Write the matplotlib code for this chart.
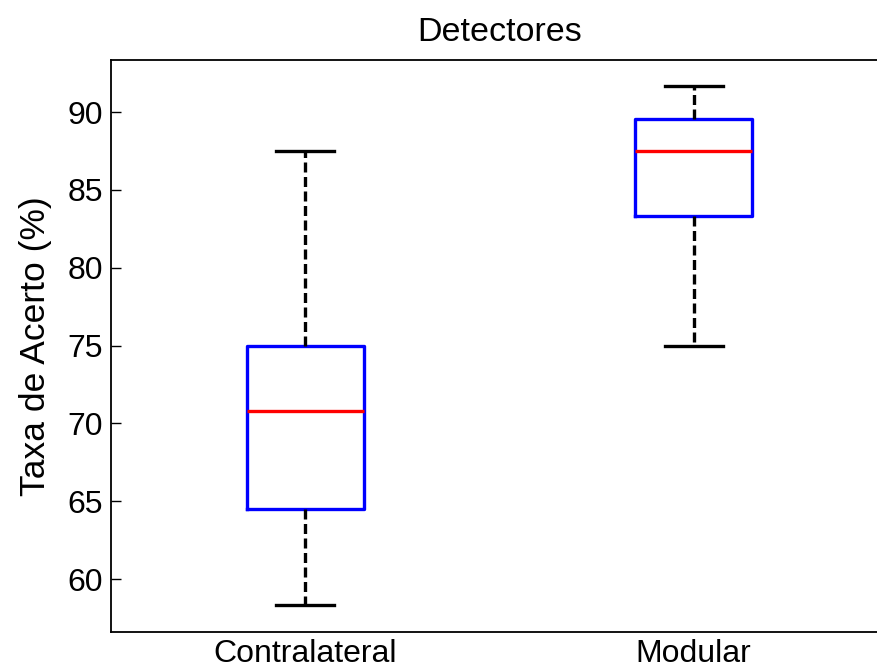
import matplotlib
matplotlib.use("Agg")
import matplotlib.pyplot as plt

plt.rcParams['font.family'] = ['Liberation Sans', 'DejaVu Sans']

labels = ['Contralateral', 'Modular']
whislo = [58.33, 75.0]
q1 = [64.5, 83.33]
med = [70.83, 87.5]
q3 = [75.0, 89.58]
whishi = [87.5, 91.67]
yticks = [60, 65, 70, 75, 80, 85, 90]

stats = []
for i in range(len(labels)):
    stats.append({'label': labels[i], 'whislo': whislo[i], 'q1': q1[i],
                  'med': med[i], 'q3': q3[i], 'whishi': whishi[i], 'fliers': []})

fig = plt.figure(figsize=(8.78, 6.69), dpi=100)
ax = fig.add_axes([111 / 878, 1 - 632 / 669, 777 / 878, 572 / 669])

ax.bxp(stats, positions=[1, 2], widths=0.30, showfliers=False,
       boxprops=dict(color='#0000ff', linewidth=2.4),
       medianprops=dict(color='#ff0000', linewidth=2.4),
       whiskerprops=dict(color='black', linewidth=2.4, linestyle=(0, (3.0, 1.35))),
       capprops=dict(color='black', linewidth=2.4),
       capwidths=0.15)

ax.set_xlim(0.5, 2.5)
ax.set_ylim(56.6, 93.35)
ax.set_yticks(yticks)
ax.tick_params(axis='y', direction='in', length=7, width=1, labelsize=23, pad=6)
ax.tick_params(axis='x', length=0, labelsize=23, pad=5)
ax.set_xticks([1, 2])
ax.set_xticklabels(labels)
for s in ax.spines.values():
    s.set_linewidth(1.3)
ax.set_ylabel('Taxa de Acerto (%)', fontsize=25.5, labelpad=11)
ax.set_title('Detectores', fontsize=24.5, pad=14)

fig.savefig('out.png', dpi=100)
